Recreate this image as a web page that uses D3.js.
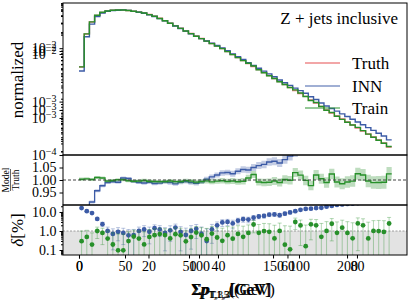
<!DOCTYPE html>
<html>
<head>
<meta charset="utf-8">
<script src="https://cdn.jsdelivr.net/npm/d3@7"></script>
<style>
  body { margin: 0; background: #fff; }
  svg { display: block; }
  svg text { font-family: "Liberation Serif", "DejaVu Serif", serif; }
</style>
</head>
<body>
<svg id="chart" width="411" height="302"></svg>
<script>
// bin edges (x units of the 0..80 axis)
const edges = [0,1.5,3,4.5,6,7.5,9,10.5,12,13.5,15,16.5,18,19.5,21,22.5,24,25.5,27,28.5,
  30,31.5,33,34.5,36,37.5,39,40.5,42,43.5,45,46.5,48,49.5,51,52.5,54,55.5,57,58.5,
  60,61.5,63,64.5,66,67.5,69,70.5,72,73.5,75,76.5,78,79.5,81,82.5,84,85.5,87,88.5,90];

const truth = [0.00445,0.01845,0.0310,0.0409,0.0467,0.0498,0.0513,0.0519,0.0517,0.0508,
  0.0493,0.0476,0.0456,0.0428,0.0398,0.0363,0.0329,0.0295,0.0264,0.0236,
  0.0210,0.0188,0.0169,0.0152,0.0136,0.01225,0.0110,0.00986,0.00867,0.00762,
  0.00670,0.00589,0.00517,0.00454,0.00399,0.00351,0.00308,0.00271,0.00238,0.00209,
  0.00184,0.00161,0.00142,0.00125,0.00107,0.000942,0.000809,0.000697,0.000612,0.000537,
  0.000472,0.000415,0.000365,0.000321,0.000281,0.000247,0.000217,0.000191,0.000168,0.000141];

const train = [0.004463,0.01854,0.03106,0.04131,0.04707,0.04960,0.05120,0.05195,0.05175,0.05065,
  0.04905,0.04741,0.04551,0.04259,0.03956,0.03605,0.03270,0.02938,0.02622,0.02346,
  0.02094,0.01871,0.01676,0.01511,0.01355,0.01216,0.01095,0.009830,0.008618,0.007590,
  0.006653,0.005861,0.005211,0.004640,0.003958,0.003475,0.003052,0.002699,0.002356,0.002094,
  0.001838,0.001658,0.001448,0.001248,0.001046,0.0009608,0.000813,0.0006900,0.0006267,0.0005327,
  0.0004649,0.0004117,0.0003635,0.0003290,0.0002866,0.0002460,0.0002148,0.0001891,0.0001665,0.0001445];

const inn = [0.003738,0.01642,0.02827,0.03914,0.04563,0.04930,0.05094,0.05143,0.05211,0.05110,
  0.04900,0.04712,0.04505,0.04241,0.03924,0.03586,0.03264,0.02918,0.02600,0.02339,
  0.02087,0.01861,0.01668,0.01509,0.01364,0.01240,0.01122,0.01014,0.008930,0.007811,
  0.006935,0.006137,0.005377,0.004767,0.004221,0.003728,0.003302,0.002913,0.002542,0.002261,
  0.002015,0.001787,0.001605,0.001431,0.001231,0.001093,0.0009425,0.0008294,0.0007405,0.0006632,
  0.0005900,0.0005250,0.0004672,0.0004157,0.0003681,0.0003260,0.0002886,0.0002559,0.0002268,0.0001918];

// relative statistical uncertainty per bin
const unc = [0.007,0.006,0.006,0.006,0.006,0.006,0.006,0.006,0.006,0.006,
  0.006,0.006,0.007,0.007,0.007,0.007,0.007,0.008,0.008,0.008,
  0.008,0.009,0.009,0.009,0.010,0.010,0.010,0.011,0.011,0.012,
  0.012,0.013,0.013,0.014,0.014,0.015,0.015,0.016,0.016,0.017,
  0.017,0.018,0.018,0.019,0.019,0.020,0.020,0.021,0.021,0.022,
  0.022,0.023,0.023,0.024,0.024,0.025,0.025,0.026,0.026,0.027];

const legendLabels = ["Truth", "INN", "Train"];
const xTicksA = [0, 20, 40, 60, 80];
const xTicksB = [0, 50, 100];
const xTicksC = [50, 100, 150, 200];
const ratioTicks = [0.95, 1.0, 1.05];

const col = { truth: "#e5484b", inn: "#3c5ba6", train: "#27902a" };
const FONT = '"Liberation Serif", "DejaVu Serif", serif';

const svg = d3.select("#chart");
const L = 63, R = 407;
const P = { main: [3, 155], ratio: [155, 205], delta: [205, 255] };

const x = d3.scaleLinear().domain([-4.6, 94.4]).range([L, R]);
const xB = d3.scaleLinear().domain([-7.27, 149.1]).range([L, R]);
const xC = d3.scaleLinear().domain([8.1, 240.5]).range([L, R]);

const yMain = d3.scaleLog().domain([1e-4, 0.0702]).range([155, 3]);
const yMainB = d3.scaleLog().domain([1.725e-4, 0.0652]).range([155, 3]);
const yMainC = d3.scaleLog().domain([2.64e-4, 0.0626]).range([155, 3]);
const yRatio = d3.scaleLinear().domain([0.9, 1.1]).range([205, 155]);
const yDelta = d3.scaleLog().domain([0.0546, 23.35]).range([255, 205]);

const defs = svg.append("defs");
Object.entries(P).forEach(([k, [t, b]]) => {
  defs.append("clipPath").attr("id", "clip-" + k)
    .append("rect").attr("x", L).attr("y", t).attr("width", R - L).attr("height", b - t);
});

const centers = truth.map((_, i) => (edges[i] + edges[i + 1]) / 2);
const rTrain = train.map((v, i) => v / truth[i]);
const rInn = inn.map((v, i) => v / truth[i]);

function stepPts(vals) {
  return vals.map((v, i) => [edges[i], v]).concat([[edges[vals.length], vals[vals.length - 1]]]);
}

// ---- main panel
const gMain = svg.append("g").attr("clip-path", "url(#clip-main)");
const histLine = d3.line().x(d => x(d[0])).y(d => yMain(d[1])).curve(d3.curveStepAfter);
[["truth", truth, 0.75], ["inn", inn, 1], ["train", train, 1]].forEach(([k, vals, op]) => {
  gMain.append("path").attr("d", histLine(stepPts(vals)))
    .attr("fill", "none").attr("stroke", col[k]).attr("stroke-width", 1.4).attr("stroke-opacity", op);
});

svg.append("text").attr("x", 398).attr("y", 18).attr("text-anchor", "end")
  .attr("dominant-baseline", "central").attr("font-size", 17).text("Z + jets inclusive");

const legY = [63, 86, 108];
legendLabels.forEach((lab, i) => {
  const k = ["truth", "inn", "train"][i];
  svg.append("line").attr("x1", 305).attr("x2", 340).attr("y1", legY[i]).attr("y2", legY[i])
    .attr("stroke", col[k]).attr("stroke-width", 1.5).attr("stroke-opacity", 0.65);
  svg.append("text").attr("x", 352).attr("y", legY[i]).attr("dominant-baseline", "central")
    .attr("font-size", 17).text(lab);
});

// ---- ratio panel
const gRatio = svg.append("g").attr("clip-path", "url(#clip-ratio)");
const band = d3.area().x(d => x(d[0])).y0(d => yRatio(d[1] - d[2])).y1(d => yRatio(d[1] + d[2]))
  .curve(d3.curveStepAfter);
const rLine = d3.line().x(d => x(d[0])).y(d => yRatio(d[1])).curve(d3.curveStepAfter);
[["inn", rInn], ["train", rTrain]].forEach(([k, r]) => {
  const pts = r.map((v, i) => [edges[i], v, unc[i]]).concat([[edges[60], r[59], unc[59]]]);
  gRatio.append("path").attr("d", band(pts)).attr("fill", col[k]).attr("fill-opacity", 0.3);
  gRatio.append("path").attr("d", rLine(pts)).attr("fill", "none")
    .attr("stroke", col[k]).attr("stroke-width", 1.3);
});
gRatio.append("line").attr("x1", L).attr("x2", R).attr("y1", yRatio(1)).attr("y2", yRatio(1))
  .attr("stroke", "#444").attr("stroke-width", 1).attr("stroke-dasharray", "3,2");

// ---- delta panel
const gDelta = svg.append("g").attr("clip-path", "url(#clip-delta)");
gDelta.append("rect").attr("x", L).attr("width", R - L).attr("y", yDelta(1))
  .attr("height", 255 - yDelta(1)).attr("fill", "#e3e3e3");
gDelta.append("line").attr("x1", L).attr("x2", R).attr("y1", yDelta(1)).attr("y2", yDelta(1))
  .attr("stroke", "#888").attr("stroke-width", 0.8).attr("stroke-dasharray", "2,1.5");
[["inn", rInn], ["train", rTrain]].forEach(([k, r]) => {
  const d = r.map((v, i) => ({ c: centers[i], v: Math.abs(v - 1) * 100, e: unc[i] * 100 }));
  const g = gDelta.append("g");
  d.forEach(p => {
    const xp = x(p.c);
    const top = yDelta(p.v + p.e);
    const lo = p.v - p.e;
    const bot = lo > 0 ? yDelta(lo) : 300;
    g.append("line").attr("x1", xp).attr("x2", xp).attr("y1", top).attr("y2", bot)
      .attr("stroke", col[k]).attr("stroke-opacity", 0.35).attr("stroke-width", 1);
    g.append("line").attr("x1", xp - 2).attr("x2", xp + 2).attr("y1", top).attr("y2", top)
      .attr("stroke", col[k]).attr("stroke-opacity", 0.35).attr("stroke-width", 1);
    if (lo > 0) g.append("line").attr("x1", xp - 2).attr("x2", xp + 2).attr("y1", bot).attr("y2", bot)
      .attr("stroke", col[k]).attr("stroke-opacity", 0.35).attr("stroke-width", 1);
  });
  g.selectAll("circle").data(d.filter(p => p.v > 0)).join("circle")
    .attr("cx", p => x(p.c)).attr("cy", p => yDelta(p.v)).attr("r", 2.4).attr("fill", col[k]);
});

// ---- frames
Object.values(P).forEach(([t, b]) => {
  svg.append("rect").attr("x", L).attr("y", t).attr("width", R - L).attr("height", b - t)
    .attr("fill", "none").attr("stroke", "#000").attr("stroke-width", 1);
});

// ---- axes
function styleAxis(g) {
  g.attr("font-family", FONT).attr("font-size", 14);
  g.select(".domain").remove();
  g.selectAll("text").attr("fill", "#000");
  g.selectAll("line").attr("stroke", "#000");
}

function logAxisLeft(scale, labelFn) {
  const [lo, hi] = scale.domain();
  const all = scale.ticks().filter(v => v >= lo * 0.999 && v <= hi * 1.001);
  const isMajor = v => Math.abs(Math.log10(v) - Math.round(Math.log10(v))) < 1e-6;
  svg.append("g").attr("transform", `translate(${L},0)`)
    .call(d3.axisLeft(scale).tickValues(all.filter(v => !isMajor(v))).tickSize(2).tickFormat(""))
    .call(styleAxis);
  const g = svg.append("g").attr("transform", `translate(${L},0)`)
    .call(d3.axisLeft(scale).tickValues(all.filter(isMajor)).tickSize(3.5).tickPadding(3).tickFormat(""))
    .call(styleAxis);
  g.selectAll(".tick text").each(function (v) { labelFn(d3.select(this), v); });
}

const powLabel = (t, v) => {
  t.append("tspan").text("10");
  t.append("tspan").attr("dy", "-0.5em").attr("font-size", 10).text("−" + Math.round(-Math.log10(v)));
};
[yMain, yMainB, yMainC].forEach(s => logAxisLeft(s, powLabel));

svg.append("g").attr("transform", `translate(${L},0)`)
  .call(d3.axisLeft(yRatio).tickValues(ratioTicks).tickSize(3.5).tickPadding(3).tickFormat(d3.format(".2f")))
  .call(styleAxis);

logAxisLeft(yDelta, (t, v) => t.text(d3.format(".1f")(v)));

[[x, xTicksA], [xB, xTicksB], [xC, xTicksC]].forEach(([s, tv]) => {
  svg.append("g").attr("transform", "translate(0,255)")
    .call(d3.axisBottom(s).tickValues(tv).tickSize(3.5).tickPadding(3).tickFormat(d3.format("d")))
    .call(styleAxis);
});

// ---- axis titles
svg.append("text").attr("transform", "translate(17,80) rotate(-90)")
  .attr("text-anchor", "middle").attr("dominant-baseline", "central").attr("font-size", 17).text("normalized");

const frac = svg.append("g").attr("transform", "translate(10.5,180) rotate(-90)");
frac.append("text").attr("text-anchor", "middle").attr("y", -1.5).attr("font-size", 9.5).text("Model");
frac.append("line").attr("x1", -11).attr("x2", 11).attr("stroke", "#000").attr("stroke-width", 0.6);
frac.append("text").attr("text-anchor", "middle").attr("y", 8).attr("font-size", 9.5).text("Truth");

const dl = svg.append("text").attr("transform", "translate(17,230) rotate(-90)")
  .attr("text-anchor", "middle").attr("dominant-baseline", "central").attr("font-size", 17);
dl.append("tspan").attr("font-style", "italic").text("δ");
dl.append("tspan").text("[%]");

const xLabels = [["1,3", "[GeV]", 0], ["3,4", "[GeV]", 1], ["1,5", "((GeV)", 2]];
xLabels.forEach(([sub, unit, dx]) => {
  const t = svg.append("text").attr("x", 231 + dx).attr("y", 295).attr("text-anchor", "middle")
    .attr("font-size", 16);
  t.append("tspan").text("Σ");
  t.append("tspan").attr("font-style", "italic").text("p");
  t.append("tspan").attr("dy", 3).attr("font-size", 10).text("T," + sub);
  t.append("tspan").attr("dy", -3).text(unit);
});
</script>
</body>
</html>
